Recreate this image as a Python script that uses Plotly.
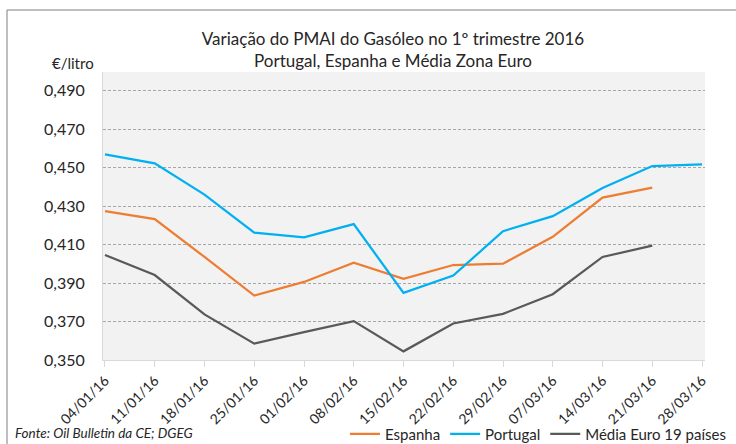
import plotly.graph_objects as go

dates = ["04/01/16", "11/01/16", "18/01/16", "25/01/16", "01/02/16", "08/02/16", "15/02/16",
         "22/02/16", "29/02/16", "07/03/16", "14/03/16", "21/03/16", "28/03/16"]
espanha = [0.4274, 0.4233, 0.4036, 0.3835, 0.3906, 0.4006, 0.3922, 0.3994, 0.4001, 0.4141, 0.4345, 0.4397, None]
portugal = [0.4569, 0.4523, 0.4360, 0.4162, 0.4138, 0.4207, 0.3849, 0.3939, 0.4170, 0.4248, 0.4395, 0.4509, 0.4518]
media = [0.4046, 0.3942, 0.3737, 0.3585, 0.3645, 0.3702, 0.3545, 0.3690, 0.3740, 0.3842, 0.4036, 0.4095, None]
y_ticks = [0.350, 0.370, 0.390, 0.410, 0.430, 0.450, 0.470, 0.490]

FONT = "Lato, 'Liberation Sans', sans-serif"
W, H = 736, 444
L, R, T, B = 103, 31, 72, 84
pw, ph = W - L - R, H - T - B

def px(x):
    return (x - L) / pw

def py(y):
    return (H - B - y) / ph

fig = go.Figure()
xs = list(range(len(dates)))
fig.add_trace(go.Scatter(x=xs, y=espanha, name="Espanha", mode="lines",
                         line=dict(color="#ED7D31", width=2.25)))
fig.add_trace(go.Scatter(x=xs, y=portugal, name="Portugal", mode="lines",
                         line=dict(color="#00B0F0", width=2.25)))
fig.add_trace(go.Scatter(x=xs, y=media, name="Média Euro 19 países", mode="lines",
                         line=dict(color="#595959", width=2.25)))

fig.update_layout(
    width=W, height=H,
    margin=dict(l=L, r=R, t=T, b=B, autoexpand=False),
    paper_bgcolor="white",
    plot_bgcolor="#F2F2F2",
    font=dict(family=FONT, color="#262626"),
    separators=",.",
    title=dict(text="Variação do PMAI do Gasóleo no 1º trimestre 2016<br>Portugal, Espanha e Média Zona Euro",
               x=393 / W, xanchor="center", xref="container",
               y=1 - 45 / H, yanchor="top", yref="container",
               font=dict(size=17, family=FONT, color="#262626")),
    showlegend=True,
    legend=dict(orientation="h", x=px(345), xanchor="left", y=py(434), yanchor="middle",
                font=dict(size=15, family=FONT, color="#262626"),
                bgcolor="rgba(0,0,0,0)", itemwidth=30, traceorder="normal"),
)

fig.update_xaxes(
    tickmode="array", tickvals=xs, ticktext=dates, tickangle=-45,
    range=[-0.04, 12.06], showgrid=False, zeroline=False,
    showline=True, linecolor="#D9D9D9", linewidth=1,
    ticks="outside", ticklen=6, tickcolor="#D9D9D9",
    tickfont=dict(size=14, family=FONT, color="#262626"),
)
fig.update_yaxes(
    tickmode="array", tickvals=y_ticks, tickformat=".3f",
    range=[0.350, 0.4998], showgrid=True, gridcolor="#A6A6A6", griddash="3px,2px", gridwidth=1,
    zeroline=False, showline=True, linecolor="#D9D9D9", linewidth=1,
    ticks="", ticklabelstandoff=14,
    tickfont=dict(size=16, family=FONT, color="#262626"),
)

fig.add_annotation(text="€/litro", xref="paper", yref="paper", x=px(73), y=py(63),
                   xanchor="center", yanchor="middle", showarrow=False,
                   font=dict(size=15, family=FONT, color="#262626"))
fig.add_annotation(text="<i>Fonte: Oil Bulletin da CE; DGEG</i>", xref="paper", yref="paper",
                   x=px(13), y=py(433), xanchor="left", yanchor="middle", showarrow=False,
                   font=dict(size=13.5, family=FONT, color="#262626"))

fig.add_shape(type="rect", xref="paper", yref="paper",
              x0=px(7), x1=px(760), y0=py(470), y1=py(10),
              line=dict(color="#7F7F7F", width=1), fillcolor="rgba(0,0,0,0)", layer="below")

fig.write_html("out.html", config={"displayModeBar": False},
               post_script="document.body.style.margin='0';document.body.style.overflow='hidden';")
